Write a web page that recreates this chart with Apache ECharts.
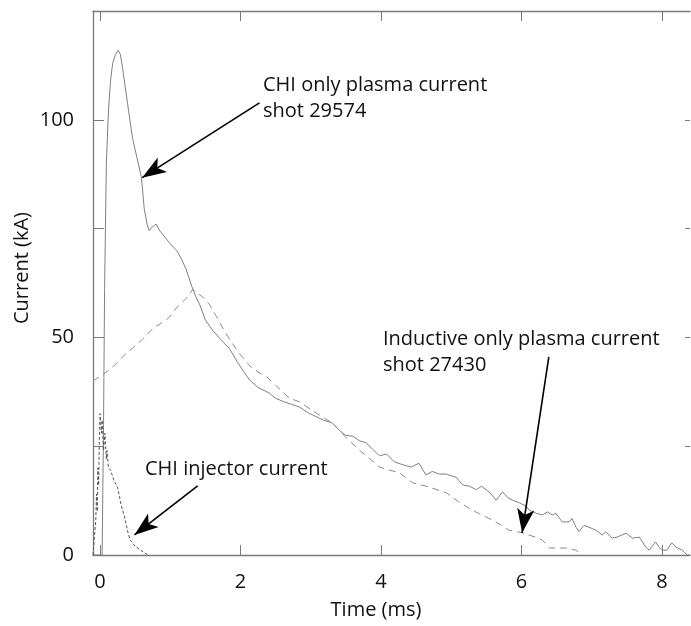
<!DOCTYPE html>
<html>
<head>
<meta charset="utf-8">
<script src="https://cdn.jsdelivr.net/npm/echarts@6/dist/echarts.min.js"></script>
<style>
  html, body { margin: 0; padding: 0; background: #fff; }
  #chart { width: 691px; height: 626px; }
</style>
</head>
<body>
<div id="chart"></div>
<script>
// ---- data (time in ms, current in kA) ----
const chiPlasmaShot29574 = [
  [-0.1,0],[0.03,0],[0.05,30],[0.065,61],[0.09,90],[0.12,102],[0.15,109],[0.18,113],[0.22,115],[0.26,116],
  [0.29,115],[0.32,112],[0.39,104],[0.46,96],[0.53,91],[0.59,86.7],[0.63,79.5],[0.67,76],[0.7,74.5],[0.75,75.5],
  [0.8,76],[0.85,74.5],[0.9,73.5],[1.0,71.5],[1.09,70],[1.16,68],[1.23,65.5],[1.3,62],[1.36,59.5],[1.42,57.5],
  [1.5,54],[1.6,51.7],[1.72,49.5],[1.84,47.5],[1.95,44.5],[2.05,42],[2.13,40.2],[2.25,38.5],[2.41,37.2],[2.5,36],
  [2.62,35.2],[2.73,34.6],[2.84,34],[2.95,32.8],[3.05,32],[3.18,31],[3.31,30.3],[3.41,28.6],[3.5,27.5],[3.6,27.3],
  [3.7,26.2],[3.79,25.8],[3.88,24.3],[3.98,22.8],[4.08,23.2],[4.19,21.4],[4.3,20.8],[4.43,20.2],[4.54,21.1],[4.64,18.4],
  [4.73,19.2],[4.83,18.6],[4.93,18.6],[5.0,18.2],[5.07,17.9],[5.16,16.1],[5.26,15.8],[5.36,15],[5.43,15.8],[5.54,14.5],
  [5.64,12.6],[5.73,14.5],[5.8,13.3],[5.87,12.6],[5.97,12],[6.07,11.2],[6.11,10.3],[6.21,9.6],[6.3,9.2],[6.37,9.9],
  [6.44,9.2],[6.49,9.6],[6.58,7.6],[6.68,7.6],[6.72,8.4],[6.78,6.3],[6.82,5.4],[6.89,6.8],[6.96,6.4],[7.06,5.7],
  [7.15,4.6],[7.2,5.3],[7.29,3.9],[7.36,4.1],[7.43,4.6],[7.49,5],[7.58,3.9],[7.68,4.1],[7.77,1.8],[7.82,1.1],
  [7.91,3],[7.96,1.8],[8.0,1.1],[8.07,1.1],[8.14,2.8],[8.2,1.8],[8.29,1.1],[8.36,0],[8.4,0]
];
const inductivePlasmaShot27430 = [
  [-0.1,40],[0.04,41.4],[0.2,43.5],[0.38,46.5],[0.46,47.5],[0.6,49.5],[0.75,52],[0.94,54],[0.99,54.7],[1.1,57],
  [1.23,59],[1.32,61],[1.46,59.3],[1.56,57.5],[1.66,54.7],[1.77,51.5],[1.88,48.7],[2.0,46],[2.13,43.5],[2.25,42],
  [2.37,41],[2.5,39],[2.7,36],[2.84,35.2],[3.08,32.6],[3.31,30.3],[3.5,27],[3.7,24],[3.85,22],[3.98,20.2],
  [4.1,19.6],[4.26,18.9],[4.45,16.6],[4.69,15.6],[4.93,14.3],[5.11,12.2],[5.3,10.3],[5.5,8.7],[5.64,7.6],[5.82,5.7],
  [6.01,5.1],[6.2,4.1],[6.3,3.4],[6.4,1.6],[6.63,1.6],[6.78,1.1],[6.85,0]
];
const chiInjectorCurrent = [
  [-0.1,0],[-0.08,0],[-0.06,8],[-0.05,14],[-0.04,10],[-0.03,20],[-0.02,16],[-0.01,26],[0,32.5],[0.02,28],
  [0.03,31],[0.05,24],[0.07,28],[0.09,22],[0.1,24],[0.12,20],[0.15,19.5],[0.2,17],[0.25,15.6],[0.3,11.5],
  [0.35,8.7],[0.4,5],[0.43,3.4],[0.5,2],[0.58,1.1],[0.68,0]
];
const xTickValues = [0, 2, 4, 6, 8];
const yTickLabels = [0, 50, 100];
// annotation arrows: [start, tip] in data coordinates
const arrowChiPlasma = [[2.27, 103.9], [0.60, 86.7]];
const arrowInductive = [[6.39, 45.5], [6.01, 5.1]];
const arrowInjector = [[1.39, 15.9], [0.49, 4.6]];
const noteChiPlasma = 'CHI only plasma current\nshot 29574';
const noteInductive = 'Inductive only plasma current\nshot 27430';
const noteInjector = 'CHI injector current';

const FONT = 'Open Sans';
const TXT = '500 20px "Open Sans"';
const axisGray = '#7a7a7a';

function arrow(a) {
  return {
    silent: true, animation: false,
    symbol: ['none', 'arrow'], symbolSize: [13, 24],
    label: { show: false },
    lineStyle: { type: 'solid', color: '#000', width: 1.6 },
    data: [[{ coord: a[0] }, { coord: a[1] }]]
  };
}

const chart = echarts.init(document.getElementById('chart'));
chart.setOption({
  animation: false,
  backgroundColor: '#fff',
  grid: { left: 93, right: 1, top: 11, bottom: 71 },
  xAxis: [{
    type: 'value', min: -0.1, max: 8.4, position: 'bottom',
    axisLine: { show: true, onZero: false, lineStyle: { color: axisGray, width: 1.3 } },
    axisTick: { show: true, inside: true, length: 10, customValues: xTickValues, lineStyle: { color: axisGray } },
    axisLabel: { customValues: xTickValues, color: '#111', fontFamily: FONT, fontWeight: 500, fontSize: 20, margin: 17 },
    splitLine: { show: false }
  }, {
    type: 'value', min: -0.1, max: 8.4, position: 'top',
    axisLine: { show: true, onZero: false, lineStyle: { color: axisGray, width: 1.3 } },
    axisTick: { show: true, inside: true, length: 10, customValues: xTickValues, lineStyle: { color: axisGray } },
    axisLabel: { show: false },
    splitLine: { show: false }
  }],
  yAxis: [{
    type: 'value', min: 0, max: 125, interval: 25, position: 'left',
    axisLine: { show: true, onZero: false, lineStyle: { color: axisGray, width: 1.3 } },
    axisTick: { show: true, inside: true, length: 11, lineStyle: { color: axisGray } },
    axisLabel: { customValues: yTickLabels, color: '#111', fontFamily: FONT, fontWeight: 500, fontSize: 20, margin: 19 },
    splitLine: { show: false }
  }, {
    type: 'value', min: 0, max: 125, interval: 25, position: 'right',
    axisLine: { show: false, onZero: false },
    axisTick: { show: true, inside: true, length: 5, lineStyle: { color: axisGray } },
    axisLabel: { show: false },
    splitLine: { show: false }
  }],
  series: [{
    name: 'CHI only plasma current (shot 29574)', type: 'line', data: chiPlasmaShot29574,
    showSymbol: false, silent: true,
    lineStyle: { color: '#808080', width: 1 },
    markLine: arrow(arrowChiPlasma)
  }, {
    name: 'Inductive only plasma current (shot 27430)', type: 'line', data: inductivePlasmaShot27430,
    showSymbol: false, silent: true,
    lineStyle: { color: '#8a8a8a', width: 1, type: [7, 5] },
    markLine: arrow(arrowInductive)
  }, {
    name: 'CHI injector current', type: 'line', data: chiInjectorCurrent,
    showSymbol: false, silent: true,
    lineStyle: { color: '#555', width: 1, type: [3, 2] },
    markLine: arrow(arrowInjector)
  }],
  graphic: [
    { type: 'text', left: 263, top: 72, style: { text: noteChiPlasma, font: TXT, fill: '#111', lineHeight: 26 } },
    { type: 'text', left: 383, top: 326, style: { text: noteInductive, font: TXT, fill: '#111', lineHeight: 26 } },
    { type: 'text', left: 145, top: 459, style: { text: noteInjector, font: TXT, fill: '#111' } },
    { type: 'text', x: 376, y: 610, style: { text: 'Time (ms)', font: TXT, fill: '#111', align: 'center', verticalAlign: 'middle' } },
    { type: 'text', x: 22, y: 268, rotation: Math.PI / 2, style: { text: 'Current (kA)', font: TXT, fill: '#111', align: 'center', verticalAlign: 'middle' } }
  ]
});
</script>
</body>
</html>
